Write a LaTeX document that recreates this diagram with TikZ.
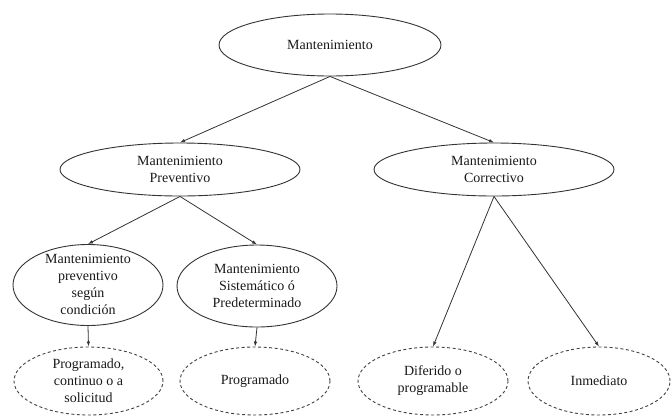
\documentclass[tikz,border=0pt]{standalone}
\usepackage{fontspec}
\setmainfont{Liberation Serif}
\usetikzlibrary{shapes.geometric,arrows.meta}
\begin{document}
\begin{tikzpicture}[x=1pt,y=-1pt,
  oval/.style={ellipse,draw=black!80,line width=0.9pt,inner sep=0pt},
  dashoval/.style={oval,dashed,dash pattern=on 3pt off 2.5pt,draw=black!75},
  txt/.style={align=center,inner sep=0pt,text=black!90,
    font=\rmfamily\fontsize{14pt}{17pt}\selectfont},
  arr/.style={-{Latex[length=5pt,width=3.5pt]},draw=black!80,line width=0.8pt}]
\useasboundingbox (0,0) rectangle (671,416);
% root
\node[oval,minimum width=222pt,minimum height=62pt,
  label={[txt]center:Mantenimiento}] (m) at (330,45) {};
% second level
\node[oval,minimum width=240pt,minimum height=53pt,
  label={[txt]center:Mantenimiento\\Preventivo}] (p) at (180,169.5) {};
\node[oval,minimum width=240pt,minimum height=53pt,
  label={[txt]center:Mantenimiento\\Correctivo}] (c) at (494,169.5) {};
% preventive branches
\node[oval,minimum width=150pt,minimum height=81pt,
  label={[txt,yshift=1pt]center:Mantenimiento\\preventivo\\según\\condición}] (pc) at (88,285) {};
\node[oval,minimum width=160pt,minimum height=82pt,
  label={[txt]center:Mantenimiento\\Sistemático ó\\Predeterminado}] (ps) at (257,286) {};
% leaves
\node[dashoval,minimum width=149pt,minimum height=68pt,
  label={[txt]center:Programado,\\continuo o a\\solicitud}] (l1) at (88.5,381) {};
\node[dashoval,minimum width=150pt,minimum height=68pt,
  label={[txt]center:Programado}] (l2) at (255,381) {};
\node[dashoval,minimum width=150pt,minimum height=68pt,
  label={[txt]center:Diferido o\\programable}] (l3) at (433,381) {};
\node[dashoval,minimum width=142pt,minimum height=68pt,
  label={[txt]center:Inmediato}] (l4) at (599,381) {};
% connectors
\draw[arr] (m.south) -- (p.north);
\draw[arr] (m.south) -- (c.north);
\draw[arr] (p.south) -- (pc.north);
\draw[arr] (p.south) -- (ps.north);
\draw[arr] (pc.south) -- (l1.north);
\draw[arr] (ps.south) -- (l2.north);
\draw[arr] (c.south) -- (l3.north);
\draw[arr] (c.south) -- (l4.north);
\end{tikzpicture}
\end{document}
